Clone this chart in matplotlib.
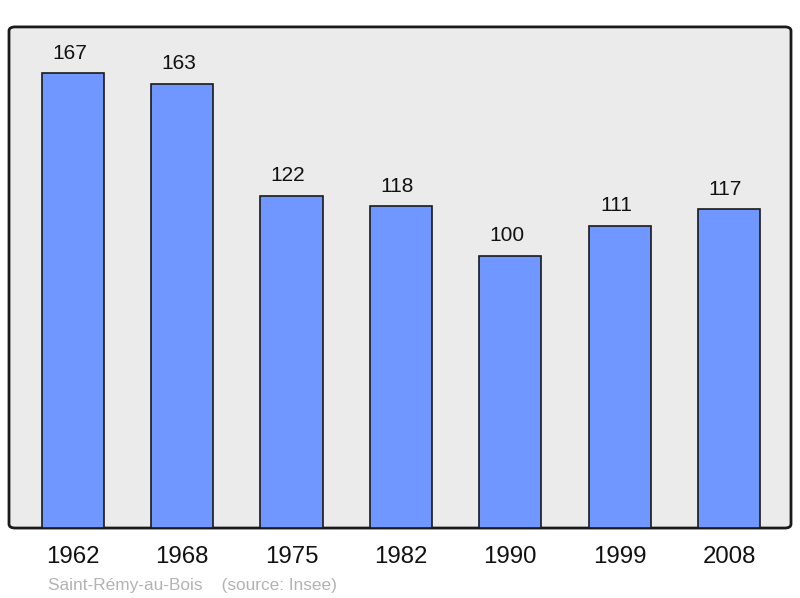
import matplotlib.pyplot as plt
from matplotlib.patches import FancyBboxPatch

plt.rcParams['font.family'] = ['Liberation Sans', 'DejaVu Sans']

years = ['1962', '1968', '1975', '1982', '1990', '1999', '2008']
population = [167, 163, 122, 118, 100, 111, 117]

fig = plt.figure(figsize=(8, 5.98), dpi=100)
ax = fig.add_axes([0.01125, 0.117, 0.9775, 0.838])
ax.set_facecolor('none')

# rounded grey panel behind the bars
panel = FancyBboxPatch((0, 0), 1, 1, boxstyle='round,pad=0,rounding_size=0.008',
                       transform=ax.transAxes, facecolor='#ebebeb',
                       edgecolor='#1a1a1a', linewidth=2, zorder=0, clip_on=False)
ax.add_patch(panel)

x = range(len(years))
ax.bar(x, population, width=0.57, color='#7096ff', edgecolor='#1a1a1a',
       linewidth=1.2, zorder=2)

for xi, v in zip(x, population):
    ax.annotate(str(v), (xi, v), xytext=(-2.5, 7.5), textcoords='offset points',
                ha='center', va='bottom', fontsize=15, color='#111111')

ax.set_xlim(-0.585, 6.567)
ax.set_ylim(0, 183.9)
ax.set_xticks(list(x))
ax.set_xticklabels(years, fontsize=17.3, color='#111111')
ax.tick_params(axis='x', length=0, pad=13)
ax.set_yticks([])
for s in ax.spines.values():
    s.set_visible(False)

fig.text(0.06, 0.0135, 'Saint-Rémy-au-Bois    (source: Insee)', fontsize=12.4,
         color='#b3b3b3', ha='left', va='baseline')

fig.savefig('out.png', dpi=100)
